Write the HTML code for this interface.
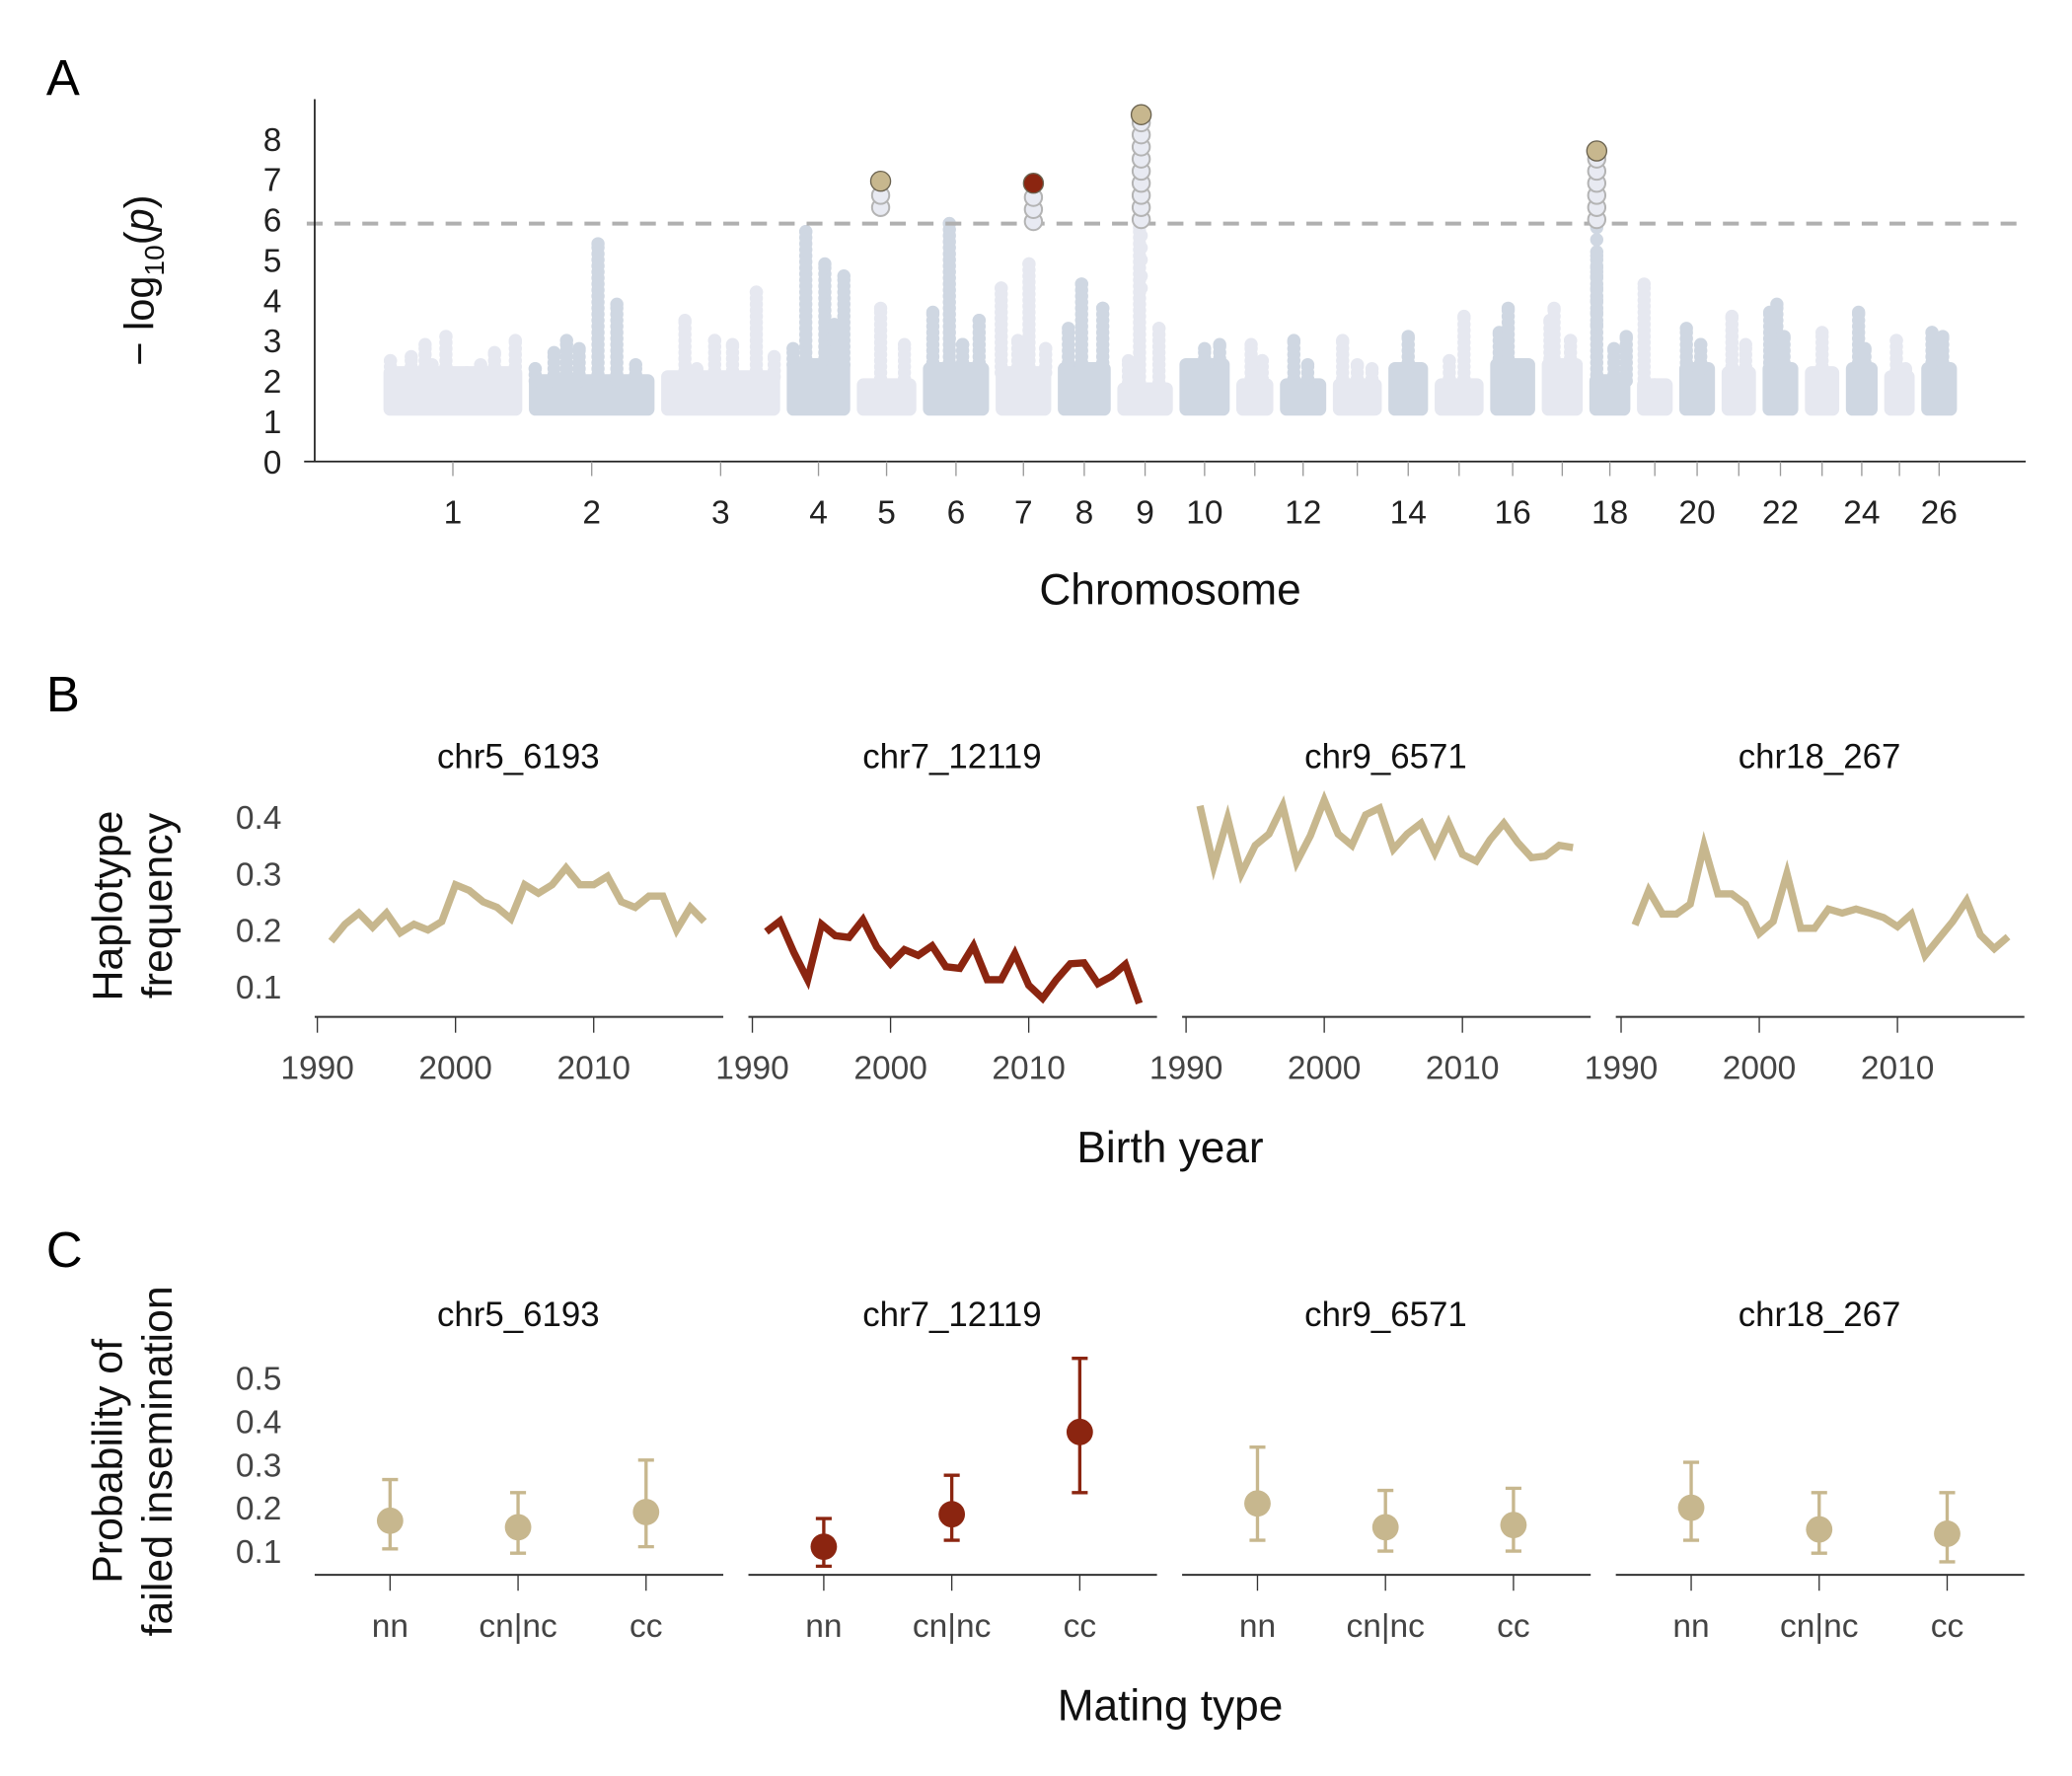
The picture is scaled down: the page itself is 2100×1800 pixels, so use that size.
<!DOCTYPE html>
<html><head><meta charset="utf-8">
<style>
html,body{margin:0;padding:0;background:#fff;}
svg{display:block;font-family:"Liberation Sans",sans-serif;}
</style></head>
<body>
<svg id="fig" xmlns="http://www.w3.org/2000/svg" width="2100" height="1800" viewBox="0 0 1567 1343.1">
<rect x="0" y="0" width="1567" height="1343.1" fill="#fff"/>
</svg>
<script>
// ---------- Panel A data ----------
const chromLengths = [105,95,90,48,45,50,42,40,42,38,28,35,37,30,37,34,31,31,27,27,26,27,26,24,23,27];
const chromBase = [2.2,2.0,2.1,2.4,1.9,2.3,2.2,2.3,1.8,2.4,1.9,1.9,1.9,2.3,1.9,2.4,2.4,2.0,1.9,2.3,2.2,2.3,2.2,2.3,2.1,2.3];
const spikeChrom = [1,1,1,1,1,1,1,1,1, 2,2,2,2,2,2,2, 3,3,3,3,3,3, 4,4,4,4,4, 5,5, 6,6,6,6, 7,7,7,7, 8,8,8, 9,9,9, 10,10, 11,11, 12,12, 13,13,13, 14, 15,15, 16,16, 17,17,17, 18,18,18, 19,19, 20,20, 21,21, 22,22,22, 23, 24,24, 25,25, 26,26];
const spikeFrac = [0.05,0.2,0.3,0.45,0.6,0.8,0.95,0.35,0.7, 0.05,0.2,0.3,0.4,0.55,0.7,0.85, 0.2,0.45,0.6,0.8,0.95,0.3, 0.1,0.3,0.6,0.75,0.9, 0.4,0.8, 0.15,0.4,0.6,0.85, 0.1,0.4,0.6,0.9, 0.2,0.45,0.85, 0.4,0.75,0.2, 0.5,0.8, 0.4,0.7, 0.3,0.6, 0.2,0.5,0.8, 0.5, 0.3,0.6, 0.2,0.4, 0.3,0.7,0.2, 0.18,0.6,0.9, 0.2,0.5, 0.2,0.6, 0.3,0.7, 0.4,0.2,0.6, 0.5, 0.4,0.6, 0.4,0.7, 0.3,0.6];
const spikeMax = [2.5,2.6,2.9,3.1,2.2,2.7,3.0,2.4,2.4, 2.3,2.7,3.0,2.8,5.4,3.9,2.4, 3.5,3.0,2.9,4.2,2.6,2.3, 2.8,5.7,4.9,3.4,4.6, 3.8,2.9, 3.7,5.9,2.9,3.5, 4.3,3.0,4.9,2.8, 3.3,4.4,3.8, 5.8,3.3,2.5, 2.8,2.9, 2.9,2.5, 3.0,2.4, 3.0,2.4,2.3, 3.1, 2.5,3.6, 3.2,3.8, 3.8,3.0,3.5, 5.1,2.8,3.1, 4.4,1.9, 3.3,2.9, 3.6,2.9, 3.9,3.7,3.1, 3.2, 3.7,2.8, 3.0,2.3, 3.2,3.1];
const sigChrom = [5,7,9,18];
const sigFrac = [0.4,0.68,0.43,0.18];
const sigLow = [6.3,5.95,6.0,6.0];
const sigHigh = [6.8,6.6,8.4,7.5];
const sigTop = [6.95,6.9,8.6,7.7];
const sigColor = ["#c7b78e","#8b2510","#c7b78e","#c7b78e"];
const yTicksA = [0,1,2,3,4,5,6,7,8];
const threshold = 5.9;
const chromLabels = ["1","2","3","4","5","6","7","8","9","10","","12","","14","","16","","18","","20","","22","","24","","26"];

// ---------- Panel B data ----------
const years = [1991,1992,1993,1994,1995,1996,1997,1998,1999,2000,2001,2002,2003,2004,2005,2006,2007,2008,2009,2010,2011,2012,2013,2014,2015,2016,2017,2018];
const freqChr5 = [0.18,0.21,0.23,0.205,0.23,0.195,0.21,0.2,0.215,0.28,0.27,0.25,0.24,0.22,0.28,0.265,0.28,0.31,0.28,0.28,0.295,0.25,0.24,0.26,0.26,0.2,0.24,0.215];
const freqChr7 = [0.197,0.216,0.16,0.112,0.21,0.19,0.187,0.218,0.17,0.14,0.165,0.155,0.172,0.135,0.132,0.172,0.112,0.112,0.158,0.102,0.079,0.112,0.14,0.142,0.105,0.118,0.139,0.07];
const freqChr9 = [0.42,0.313,0.398,0.30,0.35,0.37,0.42,0.32,0.367,0.43,0.37,0.35,0.404,0.416,0.343,0.37,0.389,0.337,0.389,0.334,0.322,0.36,0.389,0.355,0.328,0.331,0.35,0.346];
const freqChr18 = [0.209,0.27,0.228,0.228,0.246,0.35,0.264,0.264,0.246,0.194,0.215,0.3,0.203,0.203,0.237,0.23,0.237,0.23,0.222,0.206,0.228,0.155,0.185,0.215,0.252,0.191,0.167,0.188];
const facetTitles = ["chr5_6193","chr7_12119","chr9_6571","chr18_267"];
const yearTicks = [1990,2000,2010];
const yTicksB = [0.1,0.2,0.3,0.4];

// ---------- Panel C data ----------
const matingTypes = ["nn","cn|nc","cc"];
const probMean = [[0.17,0.155,0.19],[0.11,0.185,0.375],[0.21,0.155,0.16],[0.2,0.15,0.14]];
const probLow = [[0.105,0.095,0.11],[0.065,0.125,0.235],[0.125,0.1,0.1],[0.125,0.095,0.075]];
const probHigh = [[0.265,0.235,0.31],[0.175,0.275,0.545],[0.34,0.24,0.245],[0.305,0.235,0.235]];
const yTicksC = [0.1,0.2,0.3,0.4,0.5];

const TAN = "#c7b78e", RED = "#8b2510";
const NS = "http://www.w3.org/2000/svg";
const svg = document.getElementById('fig');
function mk(tag, attrs, parent){ const e=document.createElementNS(NS,tag); for(const k in attrs) e.setAttribute(k,attrs[k]); (parent||svg).appendChild(e); return e; }
function txt(s, attrs, parent){ const t=mk('text',attrs,parent); t.textContent=s; return t; }

// ===== Panel A =====
const gA = mk('g',{});


const la = txt('A',{x:35,y:72,'font-size':38,fill:'#000'},gA);
 
const GAP=5, X0=290;
const starts=[]; let acc=0;
chromLengths.forEach((L,i)=>{ starts.push(acc); acc+=L+GAP; });
const xA = g => X0 + g;
const yA = v => 349 - v*30.5;
function chromPos(c, f){ return starts[c-1] + f*chromLengths[c-1]; }
const R=5;
chromLengths.forEach((L,i)=>{
  const col = i%2===0 ? '#e6e8f0' : '#cfd7e2';
  const r = mk('rect',{x:xA(starts[i]),y:yA(chromBase[i])-R,width:L,height:yA(1.3)-yA(chromBase[i])+2*R,rx:R,fill:col},gA);
  
  
});
spikeChrom.forEach((c,k)=>{
  const col = (c-1)%2===0 ? '#e6e8f0' : '#cfd7e2';
  const x = xA(chromPos(c, spikeFrac[k]));
  for(let v=chromBase[c-1]; v<=spikeMax[k]+1e-6; v+=0.15){
    const p = mk('circle',{cx:x,cy:yA(v),r:R,fill:col},gA);
    
    
  }
  const p2 = mk('circle',{cx:x,cy:yA(spikeMax[k]),r:R,fill:col},gA);
  
  
});
const th = mk('line',{x1:232,x2:1532,y1:yA(threshold),y2:yA(threshold),stroke:'#b0b0b0','stroke-width':3,'stroke-dasharray':'12,9'},gA);
 
[[9,0.43,[4.3,4.6,5.0,5.3,5.6]],[18,0.18,[3.4,3.7,4.0,4.3,4.6,4.8,5.2,5.5,5.8]]].forEach(([c,f,vals])=>{
  const x = xA(chromPos(c,f));
  const col = (c-1)%2===0 ? '#e6e8f0' : '#cfd7e2';
  vals.forEach(v=>{ const p=mk('circle',{cx:x,cy:yA(v),r:R,fill:col},gA);
      });
});
sigChrom.forEach((c,k)=>{
  const x = xA(chromPos(c, sigFrac[k]));
  for(let v=sigLow[k]; v<=sigHigh[k]+1e-6; v+=0.3){
    const p = mk('circle',{cx:x,cy:yA(v),r:6.5,fill:'#e8eaf2',stroke:'#b4b4b4','stroke-width':1.5},gA);
    
    
  }
  const t = mk('circle',{cx:x,cy:yA(sigTop[k]),r:7.5,fill:sigColor[k],stroke:'#6b6350','stroke-width':1},gA);
  
  
});
const ay = mk('line',{x1:238,x2:238,y1:75,y2:349,stroke:'#222','stroke-width':1.3},gA);
 
const ax = mk('line',{x1:230,x2:1532,y1:349,y2:349,stroke:'#222','stroke-width':1.3},gA);
 
yTicksA.forEach(v=>{
  const t=txt(String(v),{x:213,y:yA(v)+9,'font-size':25,'text-anchor':'end',fill:'#222'},gA);
   
});
chromLengths.forEach((L,i)=>{
  const x = xA(starts[i]+L/2);
  const tk = mk('line',{x1:x,x2:x,y1:349,y2:360,stroke:'#999','stroke-width':1},gA);
   
  if(chromLabels[i]){
    const t=txt(chromLabels[i],{x:x,y:396,'font-size':25,'text-anchor':'middle',fill:'#222'},gA);
     
  }
});
const xt = txt('Chromosome',{x:885,y:457,'font-size':33,'text-anchor':'middle',fill:'#111'},gA);
 
const yt = mk('text',{transform:'translate(116,212) rotate(-90)','font-size':31,'text-anchor':'middle',fill:'#111'},gA);
 
yt.innerHTML = '− log<tspan font-size="21" dy="8">10</tspan><tspan dy="-8">(</tspan><tspan font-style="italic">p</tspan>)';

// ===== Panel B =====
const gB = mk('g',{});


const lb = txt('B',{x:35,y:538,'font-size':38,fill:'#000'},gB);
 
const facetX0 = [240,569,897,1226];
const facetLeft = [238,566,894,1222];
const facetW = 309;
const yB = v => 746 - (v-0.1)*427;
const series = [freqChr5,freqChr7,freqChr9,freqChr18];
const seriesColor = [TAN,RED,TAN,TAN];
series.forEach((vals,p)=>{
  const xB = yr => facetX0[p] + (yr-1990)*10.45;
  const ttl = txt(facetTitles[p],{x:facetLeft[p]+154,y:581,'font-size':26,'text-anchor':'middle',fill:'#111'},gB);
   
  const al = mk('line',{x1:facetLeft[p],x2:facetLeft[p]+facetW,y1:769,y2:769,stroke:'#333','stroke-width':1.5},gB);
   
  yearTicks.forEach(yr=>{
    const tk = mk('line',{x1:xB(yr),x2:xB(yr),y1:769,y2:781,stroke:'#333','stroke-width':1},gB);
     
    const tl = txt(String(yr),{x:xB(yr),y:816,'font-size':25,'text-anchor':'middle',fill:'#444'},gB);
     
  });
  const pts = vals.map((v,i)=>xB(years[i]).toFixed(1)+','+yB(v).toFixed(1)).join(' ');
  const pl = mk('polyline',{points:pts,fill:'none',stroke:seriesColor[p],'stroke-width':5.5,'stroke-linejoin':'miter'},gB);
  
  
});
yTicksB.forEach(v=>{
  const t=txt(v.toFixed(1),{x:213,y:yB(v)+9,'font-size':25,'text-anchor':'end',fill:'#444'},gB);
   
});
const ytb = mk('text',{transform:'translate(0,685) rotate(-90)','font-size':32,'text-anchor':'middle',fill:'#111'},gB);
 
ytb.innerHTML='<tspan x="0" y="92">Haplotype</tspan><tspan x="0" y="130">frequency</tspan>';
const xtb = txt('Birth year',{x:885,y:879,'font-size':33,'text-anchor':'middle',fill:'#111'},gB);
 

// ===== Panel C =====
const gC = mk('g',{});


const lc = txt('C',{x:35,y:958,'font-size':38,fill:'#000'},gC);
 
const yC = v => 1173 - (v-0.1)*327.5;
probMean.forEach((means,p)=>{
  const xC = k => facetLeft[p] + 57 + k*96.8;
  const col = p===1 ? RED : TAN;
  const ttl = txt(facetTitles[p],{x:facetLeft[p]+154,y:1003,'font-size':26,'text-anchor':'middle',fill:'#111'},gC);
   
  const al = mk('line',{x1:facetLeft[p],x2:facetLeft[p]+facetW,y1:1191,y2:1191,stroke:'#333','stroke-width':1.5},gC);
   
  matingTypes.forEach((m,k)=>{
    const x = xC(k);
    const tk = mk('line',{x1:x,x2:x,y1:1191,y2:1203,stroke:'#333','stroke-width':1},gC);
     
    const tl = txt(m,{x:x,y:1238,'font-size':25,'text-anchor':'middle',fill:'#444'},gC);
     
    const eb = mk('path',{d:`M${x-6},${yC(probHigh[p][k])}H${x+6}M${x},${yC(probHigh[p][k])}V${yC(probLow[p][k])}M${x-6},${yC(probLow[p][k])}H${x+6}`,stroke:col,'stroke-width':2.5,fill:'none'},gC);
    
    
    const pt = mk('circle',{cx:x,cy:yC(means[k]),r:10,fill:col},gC);
    
    
  });
});
yTicksC.forEach(v=>{
  const t=txt(v.toFixed(1),{x:213,y:yC(v)+9,'font-size':25,'text-anchor':'end',fill:'#444'},gC);
   
});
const ytc = mk('text',{transform:'translate(0,1105) rotate(-90)','font-size':32,'text-anchor':'middle',fill:'#111'},gC);
 
ytc.innerHTML='<tspan x="0" y="92">Probability of</tspan><tspan x="0" y="130">failed insemination</tspan>';
const xtc = txt('Mating type',{x:885,y:1301,'font-size':33,'text-anchor':'middle',fill:'#111'},gC);
 
</script>
</body></html>
